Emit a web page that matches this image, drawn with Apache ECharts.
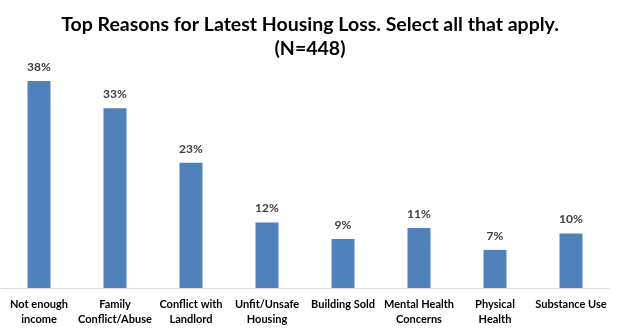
<!DOCTYPE html>
<html><head><meta charset="utf-8">
<script src="https://cdn.jsdelivr.net/npm/echarts@6/dist/echarts.min.js"></script>
<style>html,body{margin:0;padding:0;background:#fff}#c{width:620px;height:331px}</style>
</head><body><div id="c"></div>
<script>
const categories = ["Not enough\nincome","Family\nConflict/Abuse","Conflict with\nLandlord","Unfit/Unsafe\nHousing","Building Sold","Mental Health\nConcerns","Physical\nHealth","Substance Use"];
const values = [38, 33, 23, 12, 9, 11, 7, 10];
const titleLines = ["Top Reasons for Latest Housing Loss. Select all that apply.", "(N=448)"];

const chart = echarts.init(document.getElementById('c'));
chart.setOption({
  animation: false,
  title: {
    text: titleLines.join("\n"),
    left: 'center', top: 8,
    textStyle: { fontFamily: 'Lato', fontWeight: 'bold', fontSize: 19.5, color: '#000', lineHeight: 24 }
  },
  grid: { left: 1, right: 11, top: 70, bottom: 43, containLabel: false },
  xAxis: {
    type: 'category', data: categories,
    axisLine: { show: true, lineStyle: { color: '#d9d9d9', width: 1 } },
    axisTick: { show: false },
    axisLabel: { interval: 0, color: '#000', fontFamily: 'Lato', fontWeight: 'bold', fontSize: 11, lineHeight: 15, margin: 9 }
  },
  yAxis: { type: 'value', min: 0, max: 40, show: false, splitLine: { show: false } },
  series: [{
    type: 'bar', data: values, barWidth: 23,
    itemStyle: { color: '#4F81BD' },
    label: { show: true, position: 'top', distance: 8, formatter: '{c}%', color: '#404040', fontFamily: 'Lato', fontWeight: 'bold', fontSize: 12 }
  }]
});
</script></body></html>
